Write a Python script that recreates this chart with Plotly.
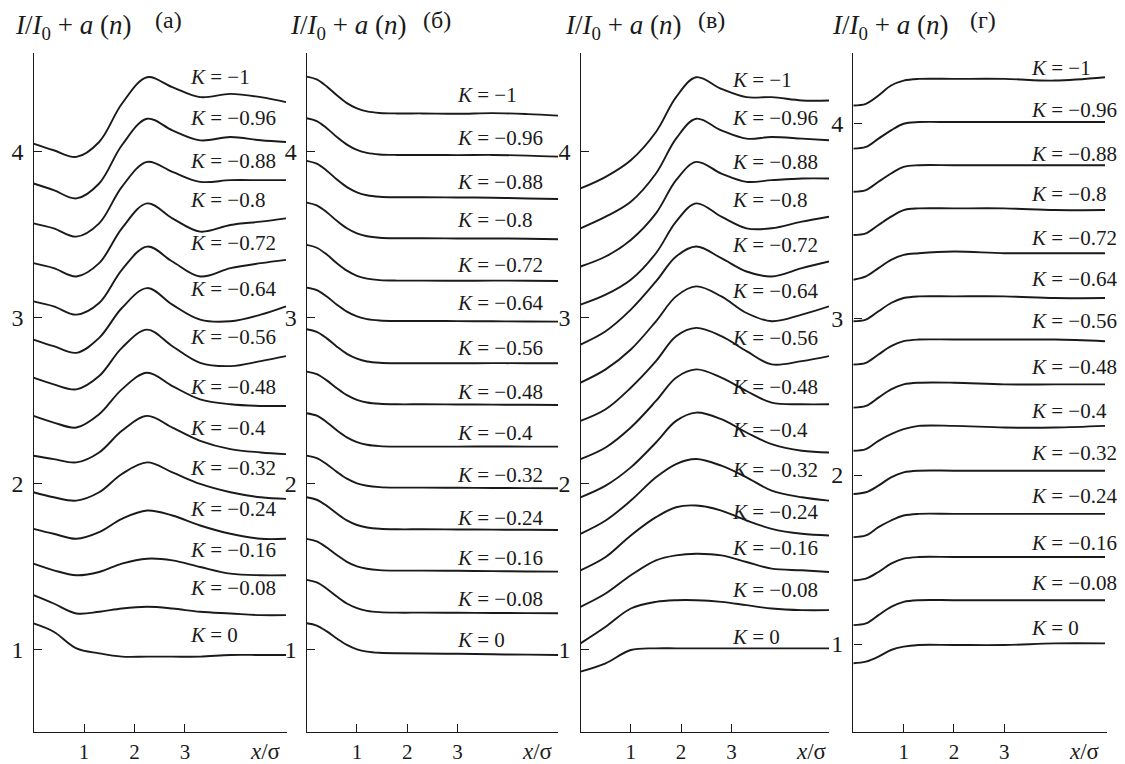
import plotly.graph_objects as go

# ---------------- data ----------------
K_VALUES = [-1, -0.96, -0.88, -0.8, -0.72, -0.64, -0.56, -0.48, -0.4, -0.32, -0.24, -0.16, -0.08, 0]
PANEL_LETTERS = ["(a)", "(б)", "(в)", "(г)"]
X_TICKS = [1, 2, 3]
Y_TICKS = [1, 2, 3, 4]

# panel (a)
X_A = [0, 0.4, 0.85, 1.3, 1.75, 2.25, 2.75, 3.3, 3.9, 4.5, 5.0]
Y_A = [
    [4.05, 4.01, 3.97, 4.06, 4.29, 4.45, 4.39, 4.33, 4.35, 4.33, 4.30],
    [3.81, 3.77, 3.72, 3.81, 4.04, 4.20, 4.13, 4.07, 4.09, 4.07, 4.06],
    [3.57, 3.54, 3.49, 3.57, 3.79, 3.94, 3.88, 3.82, 3.83, 3.83, 3.83],
    [3.33, 3.30, 3.25, 3.33, 3.54, 3.69, 3.60, 3.52, 3.56, 3.58, 3.60],
    [3.10, 3.07, 3.02, 3.09, 3.29, 3.43, 3.34, 3.25, 3.30, 3.33, 3.35],
    [2.87, 2.83, 2.79, 2.88, 3.06, 3.18, 3.08, 2.99, 2.98, 3.02, 3.07],
    [2.64, 2.60, 2.57, 2.65, 2.82, 2.93, 2.83, 2.73, 2.71, 2.74, 2.77],
    [2.41, 2.37, 2.34, 2.42, 2.57, 2.67, 2.59, 2.51, 2.48, 2.47, 2.47],
    [2.17, 2.15, 2.13, 2.19, 2.32, 2.41, 2.34, 2.26, 2.21, 2.19, 2.18],
    [1.95, 1.92, 1.90, 1.95, 2.06, 2.13, 2.07, 2.00, 1.95, 1.92, 1.91],
    [1.73, 1.70, 1.67, 1.71, 1.79, 1.84, 1.81, 1.75, 1.70, 1.67, 1.67],
    [1.52, 1.48, 1.45, 1.47, 1.52, 1.55, 1.54, 1.50, 1.46, 1.45, 1.45],
    [1.33, 1.28, 1.22, 1.23, 1.25, 1.26, 1.25, 1.23, 1.22, 1.21, 1.21],
    [1.16, 1.11, 1.01, 0.98, 0.96, 0.96, 0.96, 0.96, 0.97, 0.97, 0.97],
]

# panel (б)
X_B = [0, 0.2, 0.4, 0.6, 0.8, 1.0, 1.2, 1.45, 1.8, 2.3, 3.0, 3.7, 4.4, 5.0]
Y_B = [
    [4.454, 4.437, 4.394, 4.341, 4.294, 4.262, 4.244, 4.235, 4.232, 4.232, 4.230, 4.234, 4.228, 4.219],
    [4.203, 4.186, 4.143, 4.090, 4.044, 4.012, 3.994, 3.985, 3.982, 3.982, 3.981, 3.982, 3.978, 3.972],
    [3.946, 3.929, 3.887, 3.834, 3.788, 3.757, 3.739, 3.730, 3.727, 3.727, 3.726, 3.724, 3.720, 3.717],
    [3.695, 3.678, 3.637, 3.585, 3.540, 3.509, 3.492, 3.483, 3.480, 3.480, 3.479, 3.479, 3.477, 3.474],
    [3.440, 3.423, 3.382, 3.330, 3.285, 3.254, 3.237, 3.228, 3.225, 3.225, 3.224, 3.225, 3.224, 3.223],
    [3.183, 3.168, 3.129, 3.080, 3.038, 3.009, 2.993, 2.985, 2.982, 2.982, 2.981, 2.980, 2.979, 2.978],
    [2.932, 2.916, 2.877, 2.827, 2.784, 2.755, 2.738, 2.730, 2.727, 2.727, 2.727, 2.728, 2.727, 2.727],
    [2.677, 2.662, 2.624, 2.577, 2.535, 2.507, 2.491, 2.483, 2.480, 2.480, 2.479, 2.478, 2.477, 2.476],
    [2.426, 2.411, 2.372, 2.323, 2.281, 2.252, 2.236, 2.228, 2.225, 2.225, 2.225, 2.226, 2.225, 2.225],
    [2.171, 2.156, 2.119, 2.073, 2.032, 2.004, 1.989, 1.981, 1.978, 1.978, 1.977, 1.976, 1.975, 1.974],
    [1.920, 1.905, 1.868, 1.822, 1.781, 1.753, 1.738, 1.730, 1.727, 1.727, 1.726, 1.725, 1.724, 1.723],
    [1.669, 1.654, 1.617, 1.572, 1.531, 1.504, 1.489, 1.481, 1.478, 1.478, 1.477, 1.475, 1.473, 1.472],
    [1.422, 1.407, 1.369, 1.322, 1.280, 1.252, 1.236, 1.228, 1.225, 1.225, 1.224, 1.223, 1.222, 1.221],
    [1.161, 1.147, 1.112, 1.069, 1.031, 1.004, 0.990, 0.983, 0.980, 0.979, 0.977, 0.974, 0.972, 0.970],
]

# panel (в)
X_V = [0, 0.5, 1.0, 1.5, 1.9, 2.3, 2.8, 3.3, 3.8, 4.4, 4.94]
Y_V = [
    [3.78, 3.85, 3.95, 4.12, 4.33, 4.45, 4.38, 4.33, 4.33, 4.31, 4.31],
    [3.54, 3.61, 3.70, 3.87, 4.08, 4.20, 4.13, 4.08, 4.09, 4.08, 4.07],
    [3.31, 3.37, 3.47, 3.63, 3.83, 3.94, 3.87, 3.82, 3.83, 3.84, 3.84],
    [3.08, 3.14, 3.23, 3.39, 3.58, 3.69, 3.61, 3.54, 3.54, 3.58, 3.61],
    [2.84, 2.92, 3.05, 3.22, 3.37, 3.43, 3.36, 3.28, 3.25, 3.30, 3.34],
    [2.61, 2.69, 2.81, 2.98, 3.13, 3.19, 3.13, 3.03, 2.98, 3.02, 3.07],
    [2.38, 2.45, 2.58, 2.74, 2.89, 2.94, 2.89, 2.80, 2.72, 2.74, 2.77],
    [2.15, 2.22, 2.34, 2.50, 2.64, 2.69, 2.64, 2.56, 2.49, 2.48, 2.48],
    [1.92, 1.99, 2.10, 2.25, 2.38, 2.43, 2.39, 2.31, 2.24, 2.20, 2.19],
    [1.70, 1.78, 1.90, 2.04, 2.12, 2.15, 2.11, 2.04, 1.96, 1.92, 1.90],
    [1.48, 1.56, 1.69, 1.80, 1.86, 1.87, 1.84, 1.78, 1.73, 1.70, 1.69],
    [1.26, 1.34, 1.45, 1.54, 1.57, 1.58, 1.57, 1.53, 1.49, 1.48, 1.47],
    [1.04, 1.14, 1.25, 1.29, 1.30, 1.30, 1.29, 1.27, 1.25, 1.24, 1.24],
    [0.87, 0.92, 1.00, 1.01, 1.01, 1.01, 1.01, 1.01, 1.01, 1.01, 1.01],
]

# panel (г)
X_G = [0, 0.25, 0.5, 0.75, 1.0, 1.3, 2.0, 3.0, 4.0, 5.0]
Y_G = [
    [4.28, 4.29, 4.34, 4.40, 4.43, 4.44, 4.44, 4.44, 4.43, 4.45],
    [4.02, 4.03, 4.08, 4.13, 4.17, 4.18, 4.18, 4.18, 4.18, 4.18],
    [3.76, 3.77, 3.82, 3.87, 3.91, 3.92, 3.92, 3.92, 3.92, 3.92],
    [3.50, 3.51, 3.56, 3.61, 3.65, 3.66, 3.66, 3.66, 3.65, 3.65],
    [3.23, 3.25, 3.30, 3.35, 3.38, 3.39, 3.40, 3.39, 3.39, 3.39],
    [2.98, 2.99, 3.04, 3.09, 3.12, 3.13, 3.13, 3.13, 3.12, 3.12],
    [2.72, 2.73, 2.78, 2.83, 2.86, 2.87, 2.87, 2.87, 2.87, 2.86],
    [2.46, 2.47, 2.52, 2.57, 2.60, 2.61, 2.61, 2.60, 2.60, 2.60],
    [2.20, 2.21, 2.26, 2.30, 2.33, 2.35, 2.35, 2.34, 2.34, 2.35],
    [1.94, 1.95, 1.99, 2.04, 2.07, 2.08, 2.08, 2.08, 2.08, 2.08],
    [1.68, 1.69, 1.74, 1.78, 1.81, 1.82, 1.82, 1.82, 1.82, 1.82],
    [1.42, 1.43, 1.47, 1.52, 1.55, 1.56, 1.56, 1.56, 1.56, 1.56],
    [1.15, 1.16, 1.21, 1.26, 1.29, 1.30, 1.30, 1.30, 1.30, 1.30],
    [0.92, 0.93, 0.96, 1.00, 1.02, 1.03, 1.03, 1.03, 1.04, 1.04],
]

# ---------------- layout (positions / styles) ----------------
W, H = 1125, 764
FONT = "Liberation Serif, Times New Roman, Times, DejaVu Serif, serif"
INK = "#1a1a1a"

def px_x(p):
    return p / W

def px_y(p):
    return 1 - p / H

# where the tick marks for 1..4 sit on each drawn axis (panel (г) is drawn unevenly in the source)
PANELS = [
    dict(x=X_A, ys=Y_A, dom=(33.5, 287), xmax=5.02, lab_x=3.05, title_cx=73, letter_cx=168,
         ytick_pos=[1, 2, 3, 4],
         lab_y=[4.45, 4.205, 3.946, 3.711, 3.452, 3.175, 2.886, 2.584, 2.337, 2.096, 1.849, 1.602, 1.373, 1.09]),
    dict(x=X_B, ys=Y_B, dom=(306.7, 558), xmax=5.0, lab_x=2.95, title_cx=348, letter_cx=437,
         ytick_pos=[1, 2, 3, 4],
         lab_y=[4.343, 4.084, 3.819, 3.59, 3.319, 3.09, 2.819, 2.554, 2.307, 2.054, 1.795, 1.554, 1.307, 1.06]),
    dict(x=X_V, ys=Y_V, dom=(580.5, 829), xmax=4.94, lab_x=2.98, title_cx=623, letter_cx=711,
         ytick_pos=[1, 2, 3, 4],
         lab_y=[4.434, 4.205, 3.94, 3.711, 3.44, 3.163, 2.88, 2.584, 2.325, 2.084, 1.831, 1.614, 1.361, 1.078]),
    dict(x=X_G, ys=Y_G, dom=(853.3, 1107), xmax=5.04, lab_x=3.5, title_cx=890, letter_cx=983,
         ytick_pos=[1.036, 2.054, 2.994, 4.169],
         lab_y=[4.506, 4.253, 3.988, 3.747, 3.482, 3.235, 2.982, 2.705, 2.44, 2.187, 1.928, 1.645, 1.404, 1.133]),
]

Y_RANGE = [0.506, 4.596]
Y_DOM = [px_y(732), px_y(53)]

fig = go.Figure()
annotations = []

def fmt_k(k):
    if k == 0:
        return "<i>K</i> = 0"
    return "<i>K</i> = \u2212" + ("%g" % abs(k))

TITLE = "<i>I</i>/<i>I</i><sub>0</sub>\u00a0+\u00a0<i>a</i>\u00a0(<i>n</i>)"

for i, p in enumerate(PANELS):
    sfx = "" if i == 0 else str(i + 1)
    xa, ya = "x" + sfx, "y" + sfx
    for k, yv in zip(K_VALUES, p["ys"]):
        fig.add_trace(go.Scatter(
            x=p["x"], y=yv, mode="lines", xaxis=xa, yaxis=ya,
            line=dict(color=INK, width=1.9, shape="spline", smoothing=1.0),
            showlegend=False, hoverinfo="skip"))
    axis_common = dict(showline=True, linecolor=INK, linewidth=1.4, ticks="inside",
                       ticklen=8, tickwidth=1.3, tickcolor=INK, showgrid=False,
                       zeroline=False, automargin=False)
    fig.layout["xaxis" + sfx] = dict(domain=[px_x(p["dom"][0]), px_x(p["dom"][1])],
                                      range=[0, p["xmax"]], tickvals=X_TICKS, anchor=ya,
                                      ticklabelstandoff=1,
                                      tickfont=dict(family=FONT, size=21, color=INK),
                                      **axis_common)
    fig.layout["yaxis" + sfx] = dict(domain=Y_DOM, range=Y_RANGE, tickvals=p["ytick_pos"],
                                      ticktext=[str(t) for t in Y_TICKS],
                                      anchor=xa, ticklabelstandoff=4,
                                      tickfont=dict(family=FONT, size=24, color=INK),
                                      **axis_common)
    for k, ly in zip(K_VALUES, p["lab_y"]):
        annotations.append(dict(x=p["lab_x"], y=ly, xref=xa, yref=ya, text=fmt_k(k),
                                showarrow=False, xanchor="left", yanchor="middle",
                                font=dict(family=FONT, size=21, color=INK)))
    annotations.append(dict(x=px_x(p["title_cx"]), y=px_y(27), xref="paper", yref="paper",
                            text=TITLE, showarrow=False, xanchor="center", yanchor="middle",
                            font=dict(family=FONT, size=27, color=INK)))
    annotations.append(dict(x=px_x(p["letter_cx"]), y=px_y(20), xref="paper", yref="paper",
                            text=PANEL_LETTERS[i], showarrow=False, xanchor="center",
                            yanchor="middle", font=dict(family=FONT, size=24, color=INK)))
    annotations.append(dict(x=4.6, y=px_y(751), xref=xa, yref="paper", text="<i>x</i>/σ",
                            showarrow=False, xanchor="center", yanchor="middle",
                            font=dict(family=FONT, size=23, color=INK)))

fig.update_layout(width=W, height=H, margin=dict(l=0, r=0, t=0, b=0, autoexpand=False),
                  paper_bgcolor="white", plot_bgcolor="white",
                  annotations=annotations, showlegend=False)

fig.write_html("out.html")
